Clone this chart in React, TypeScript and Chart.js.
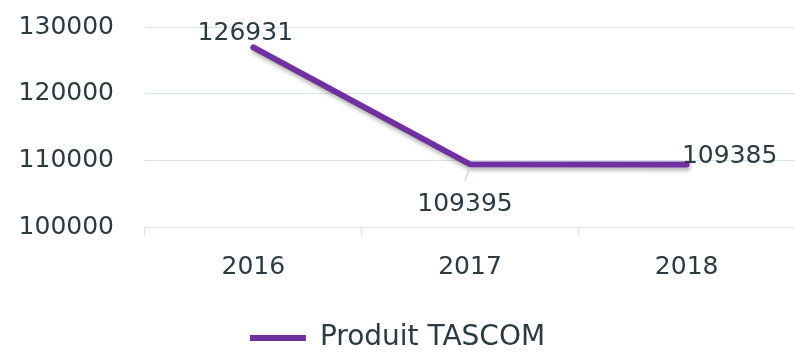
import React, { useEffect, useRef } from "react";
import { Chart, registerables } from "chart.js";

Chart.register(...registerables);

// Yearly totals of the TASCOM product
const years = ["2016", "2017", "2018"];
const tascomValues = [126931, 109395, 109385];
const seriesLabel = "Produit TASCOM";
const yTicks = [100000, 110000, 120000, 130000];

const purple = "#7030A0";
const textColor = "#2c3a41";
const gridColor = "#d7e2e6";
const fontFamily = "'DejaVu Sans', sans-serif";
const tickSize = 25;
const legendSize = 28;

// Placement of each value label relative to its point (dx, dy)
const labelOffsets: [number, number][] = [
  [-8, -14],
  [-5, 40],
  [43, -8],
];

const lineShadow = {
  id: "lineShadow",
  beforeDatasetDraw(chart: Chart) {
    const ctx = chart.ctx;
    ctx.save();
    ctx.shadowColor = "rgba(0,0,0,0.3)";
    ctx.shadowBlur = 4;
    ctx.shadowOffsetX = 1;
    ctx.shadowOffsetY = 3;
  },
  afterDatasetDraw(chart: Chart) {
    chart.ctx.restore();
  },
};

const valueLabels = {
  id: "valueLabels",
  afterDatasetsDraw(chart: Chart) {
    const ctx = chart.ctx;
    const meta = chart.getDatasetMeta(0);
    const data = chart.data.datasets[0].data as number[];
    ctx.save();
    ctx.font = `${tickSize}px ${fontFamily}`;
    ctx.fillStyle = textColor;
    ctx.textAlign = "center";
    ctx.textBaseline = "middle";
    meta.data.forEach((pt: any, i: number) => {
      const [dx, dy] = labelOffsets[i];
      if (i === 1) {
        // short leader line down to the label
        ctx.strokeStyle = "#b9cdd6";
        ctx.lineWidth = 1.2;
        ctx.beginPath();
        ctx.moveTo(pt.x, pt.y + 3);
        ctx.lineTo(pt.x - 5, pt.y + 16);
        ctx.stroke();
      }
      ctx.fillText(String(data[i]), pt.x + dx, pt.y + dy);
    });
    ctx.restore();
  },
};

export default function App() {
  const canvasRef = useRef<HTMLCanvasElement | null>(null);

  useEffect(() => {
    if (!canvasRef.current) return;
    const chart = new Chart(canvasRef.current, {
      type: "line",
      data: {
        labels: years,
        datasets: [
          {
            label: seriesLabel,
            data: tascomValues,
            borderColor: purple,
            backgroundColor: purple,
            borderWidth: 6,
            borderCapStyle: "round",
            borderJoinStyle: "miter",
            pointRadius: 0,
            pointHoverRadius: 0,
            tension: 0,
            fill: false,
          },
        ],
      },
      options: {
        animation: false,
        responsive: true,
        maintainAspectRatio: false,
        layout: { padding: { top: 27, left: 0, right: 0, bottom: -10 } },
        font: { family: fontFamily, size: tickSize },
        color: textColor,
        plugins: {
          tooltip: { enabled: false },
          legend: {
            display: true,
            position: "bottom",
            labels: {
              usePointStyle: true,
              pointStyle: "line",
              pointStyleWidth: 56,
              padding: 10,
              color: textColor,
              font: { family: fontFamily, size: legendSize },
            },
          },
        },
        scales: {
          x: {
            offset: true,
            grid: {
              display: true,
              offset: true,
              drawOnChartArea: false,
              drawTicks: true,
              tickLength: 9,
              color: gridColor,
            },
            border: { display: true, color: gridColor },
            ticks: {
              color: textColor,
              font: { family: fontFamily, size: tickSize },
              padding: 16,
              maxRotation: 0,
            },
            afterFit(scale: any) {
              scale.height = 87;
            },
          },
          y: {
            min: yTicks[0],
            max: yTicks[yTicks.length - 1],
            afterBuildTicks(scale: any) {
              scale.ticks = yTicks.map((v) => ({ value: v }));
            },
            grid: { color: gridColor, drawTicks: false, lineWidth: 1 },
            border: { display: false },
            ticks: {
              color: textColor,
              font: { family: fontFamily, size: tickSize },
              padding: 31,
              callback: (v: any) => String(v),
            },
            afterFit(scale: any) {
              scale.width = 145;
              scale.paddingTop = 0;
              scale.paddingBottom = 0;
            },
          },
        },
      },
      plugins: [lineShadow, valueLabels],
    });
    return () => chart.destroy();
  }, []);

  return (
    <div style={{ position: "fixed", left: 0, top: 0, width: 795, height: 352, background: "#fff" }}>
      <canvas ref={canvasRef} />
    </div>
  );
}
